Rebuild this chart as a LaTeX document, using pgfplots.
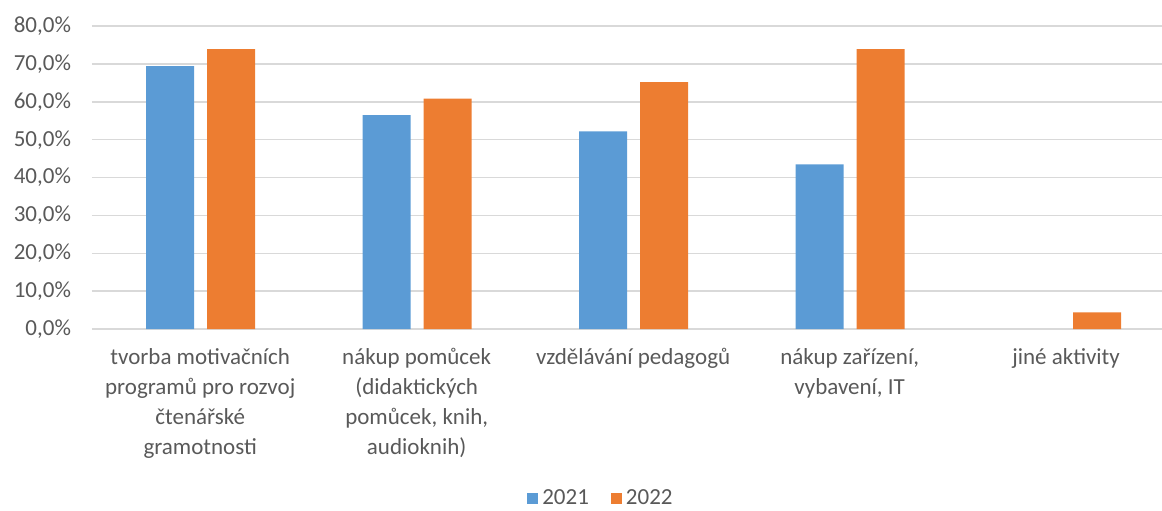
\documentclass[border=0pt]{standalone}
\usepackage{fontspec}
\setmainfont{Carlito}
\usepackage{pgfplots}
\pgfplotsset{compat=1.18}
\definecolor{bar21}{HTML}{5B9BD5}
\definecolor{bar22}{HTML}{ED7D31}
\definecolor{txt}{HTML}{595959}
\definecolor{gridc}{HTML}{D9D9D9}

\begin{document}
\begin{tikzpicture}
\begin{axis}[
    name=ax,
    scale only axis,
    width=535pt, height=151.5pt,
    xmin=-0.5, xmax=4.443,
    ymin=0, ymax=80,
    ybar, bar width=0.222,
    axis line style={draw=none},
    major tick length=0pt,
    ymajorgrids,
    grid style={gridc, line width=0.75pt},
    ytick={0,10,...,80},
    /pgf/number format/assume math mode=true,
    yticklabel={\pgfmathprintnumber[fixed,fixed zerofill,precision=1,use comma]{\tick}\%},
    y tick label style={font=\fontsize{11.5}{15}\selectfont, text=txt, xshift=-7pt},
    xtick={0,1,2,3,4},
    xticklabels={
        {tvorba motivačních\\programů pro rozvoj\\čtenářské\\gramotnosti},
        {nákup pomůcek\\(didaktických\\pomůcek, knih,\\audioknih)},
        {vzdělávání pedagogů},
        {nákup zařízení,\\vybavení, IT},
        {jiné aktivity}},
    x tick label style={font=\fontsize{11.5}{15}\selectfont, text=txt,
        align=center, anchor=north, yshift=-6pt},
    legend style={at={(0.4766,-0.558)}, anchor=center, draw=none,
        font=\fontsize{11.5}{15}\selectfont, text=txt,
        /tikz/every even column/.append style={column sep=9pt}},
    legend columns=2,
    legend image code/.code={\fill[#1] (0pt,-2.75pt) rectangle (5.5pt,2.75pt);},
]
\addplot[fill=bar21, draw=none, bar shift=-0.139]
    coordinates {(0,69.4) (1,56.5) (2,52.2) (3,43.5)};
\addplot[fill=bar22, draw=none, bar shift=0.143]
    coordinates {(0,73.9) (1,60.8) (2,65.2) (3,73.9) (4,4.4)};
\legend{2021,2022}
\end{axis}
\pgfresetboundingbox
\path[use as bounding box] ([shift={(-46pt,-90.5pt)}]ax.south west)
    rectangle ([shift={(535pt,164.5pt)}]ax.south west);
\end{tikzpicture}
\end{document}
